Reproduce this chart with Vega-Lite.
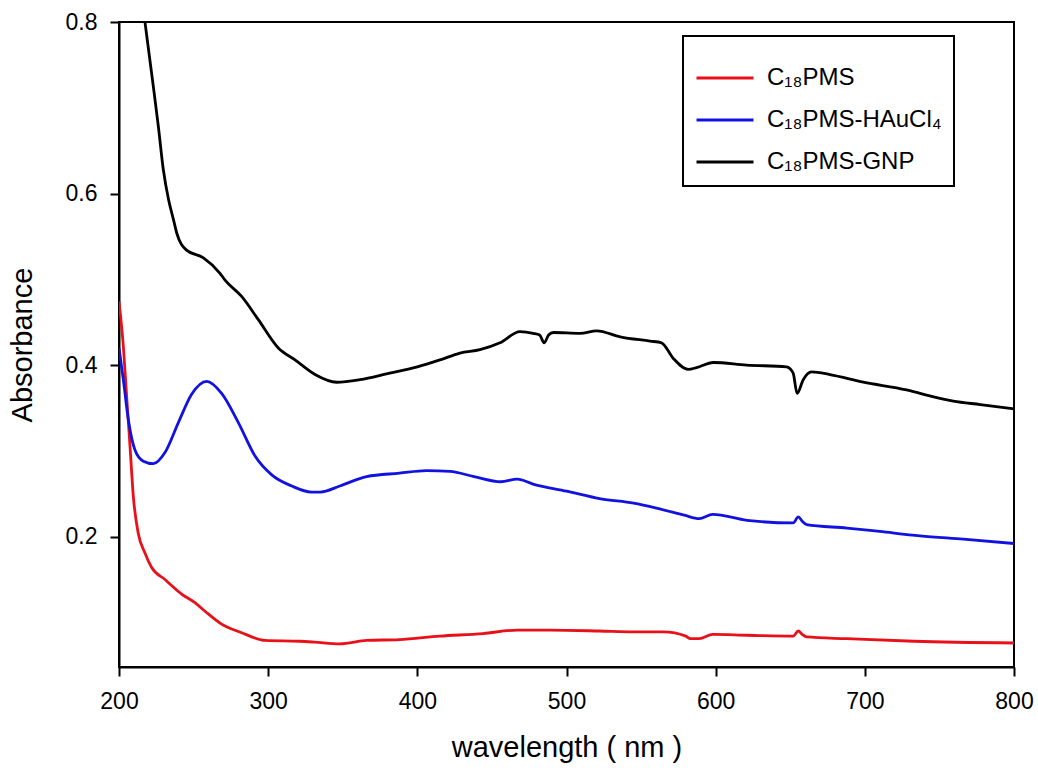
{
  "$schema": "https://vega.github.io/schema/vega-lite/v6.json",
  "width": 895,
  "height": 645,
  "autosize": {"type": "none"},
  "padding": {"left": 119, "top": 22, "right": 24, "bottom": 107},
  "data": {
    "values": [
      {"wavelength":200,"absorbance":0.474,"sample":"C₁₈PMS"},
      {"wavelength":202.9,"absorbance":0.422,"sample":"C₁₈PMS"},
      {"wavelength":205.1,"absorbance":0.364,"sample":"C₁₈PMS"},
      {"wavelength":207.4,"absorbance":0.305,"sample":"C₁₈PMS"},
      {"wavelength":209.6,"absorbance":0.247,"sample":"C₁₈PMS"},
      {"wavelength":212.9,"absorbance":0.204,"sample":"C₁₈PMS"},
      {"wavelength":217.4,"absorbance":0.181,"sample":"C₁₈PMS"},
      {"wavelength":221.9,"absorbance":0.164,"sample":"C₁₈PMS"},
      {"wavelength":230.8,"absorbance":0.150,"sample":"C₁₈PMS"},
      {"wavelength":242,"absorbance":0.133,"sample":"C₁₈PMS"},
      {"wavelength":250.9,"absorbance":0.123,"sample":"C₁₈PMS"},
      {"wavelength":257.7,"absorbance":0.113,"sample":"C₁₈PMS"},
      {"wavelength":268.8,"absorbance":0.098,"sample":"C₁₈PMS"},
      {"wavelength":282.2,"absorbance":0.088,"sample":"C₁₈PMS"},
      {"wavelength":297.9,"absorbance":0.079,"sample":"C₁₈PMS"},
      {"wavelength":321,"absorbance":0.078,"sample":"C₁₈PMS"},
      {"wavelength":331,"absorbance":0.077,"sample":"C₁₈PMS"},
      {"wavelength":348,"absorbance":0.075,"sample":"C₁₈PMS"},
      {"wavelength":366,"absorbance":0.079,"sample":"C₁₈PMS"},
      {"wavelength":388,"absorbance":0.080,"sample":"C₁₈PMS"},
      {"wavelength":415,"absorbance":0.084,"sample":"C₁₈PMS"},
      {"wavelength":444,"absorbance":0.087,"sample":"C₁₈PMS"},
      {"wavelength":467,"absorbance":0.091,"sample":"C₁₈PMS"},
      {"wavelength":489,"absorbance":0.091,"sample":"C₁₈PMS"},
      {"wavelength":522,"absorbance":0.090,"sample":"C₁₈PMS"},
      {"wavelength":545,"absorbance":0.089,"sample":"C₁₈PMS"},
      {"wavelength":565,"absorbance":0.089,"sample":"C₁₈PMS"},
      {"wavelength":580,"absorbance":0.084,"sample":"C₁₈PMS"},
      {"wavelength":583,"absorbance":0.081,"sample":"C₁₈PMS"},
      {"wavelength":589,"absorbance":0.081,"sample":"C₁₈PMS"},
      {"wavelength":598,"absorbance":0.086,"sample":"C₁₈PMS"},
      {"wavelength":621,"absorbance":0.085,"sample":"C₁₈PMS"},
      {"wavelength":652,"absorbance":0.084,"sample":"C₁₈PMS"},
      {"wavelength":655.4,"absorbance":0.090,"sample":"C₁₈PMS"},
      {"wavelength":658,"absorbance":0.086,"sample":"C₁₈PMS"},
      {"wavelength":661,"absorbance":0.083,"sample":"C₁₈PMS"},
      {"wavelength":688,"absorbance":0.081,"sample":"C₁₈PMS"},
      {"wavelength":733,"absorbance":0.078,"sample":"C₁₈PMS"},
      {"wavelength":800,"absorbance":0.076,"sample":"C₁₈PMS"},

      {"wavelength":200,"absorbance":0.420,"sample":"C₁₈PMS-HAuCl₄"},
      {"wavelength":202.9,"absorbance":0.383,"sample":"C₁₈PMS-HAuCl₄"},
      {"wavelength":206.3,"absorbance":0.336,"sample":"C₁₈PMS-HAuCl₄"},
      {"wavelength":210.7,"absorbance":0.301,"sample":"C₁₈PMS-HAuCl₄"},
      {"wavelength":216.3,"absorbance":0.288,"sample":"C₁₈PMS-HAuCl₄"},
      {"wavelength":223,"absorbance":0.285,"sample":"C₁₈PMS-HAuCl₄"},
      {"wavelength":230.8,"absorbance":0.298,"sample":"C₁₈PMS-HAuCl₄"},
      {"wavelength":239.8,"absorbance":0.333,"sample":"C₁₈PMS-HAuCl₄"},
      {"wavelength":248.7,"absorbance":0.366,"sample":"C₁₈PMS-HAuCl₄"},
      {"wavelength":258.8,"absorbance":0.381,"sample":"C₁₈PMS-HAuCl₄"},
      {"wavelength":268.8,"absorbance":0.367,"sample":"C₁₈PMS-HAuCl₄"},
      {"wavelength":280,"absorbance":0.333,"sample":"C₁₈PMS-HAuCl₄"},
      {"wavelength":291.2,"absorbance":0.294,"sample":"C₁₈PMS-HAuCl₄"},
      {"wavelength":302.4,"absorbance":0.272,"sample":"C₁₈PMS-HAuCl₄"},
      {"wavelength":315.8,"absorbance":0.259,"sample":"C₁₈PMS-HAuCl₄"},
      {"wavelength":329,"absorbance":0.252,"sample":"C₁₈PMS-HAuCl₄"},
      {"wavelength":335,"absorbance":0.252,"sample":"C₁₈PMS-HAuCl₄"},
      {"wavelength":348,"absorbance":0.259,"sample":"C₁₈PMS-HAuCl₄"},
      {"wavelength":366,"absorbance":0.270,"sample":"C₁₈PMS-HAuCl₄"},
      {"wavelength":388,"absorbance":0.274,"sample":"C₁₈PMS-HAuCl₄"},
      {"wavelength":406,"absorbance":0.277,"sample":"C₁₈PMS-HAuCl₄"},
      {"wavelength":422,"absorbance":0.276,"sample":"C₁₈PMS-HAuCl₄"},
      {"wavelength":438,"absorbance":0.270,"sample":"C₁₈PMS-HAuCl₄"},
      {"wavelength":456,"absorbance":0.264,"sample":"C₁₈PMS-HAuCl₄"},
      {"wavelength":467,"absorbance":0.267,"sample":"C₁₈PMS-HAuCl₄"},
      {"wavelength":478,"absorbance":0.261,"sample":"C₁₈PMS-HAuCl₄"},
      {"wavelength":500,"absorbance":0.253,"sample":"C₁₈PMS-HAuCl₄"},
      {"wavelength":523,"absorbance":0.244,"sample":"C₁₈PMS-HAuCl₄"},
      {"wavelength":545,"absorbance":0.239,"sample":"C₁₈PMS-HAuCl₄"},
      {"wavelength":563,"absorbance":0.232,"sample":"C₁₈PMS-HAuCl₄"},
      {"wavelength":579,"absorbance":0.225,"sample":"C₁₈PMS-HAuCl₄"},
      {"wavelength":589,"absorbance":0.221,"sample":"C₁₈PMS-HAuCl₄"},
      {"wavelength":598,"absorbance":0.226,"sample":"C₁₈PMS-HAuCl₄"},
      {"wavelength":621,"absorbance":0.219,"sample":"C₁₈PMS-HAuCl₄"},
      {"wavelength":652,"absorbance":0.216,"sample":"C₁₈PMS-HAuCl₄"},
      {"wavelength":655.4,"absorbance":0.223,"sample":"C₁₈PMS-HAuCl₄"},
      {"wavelength":658,"absorbance":0.218,"sample":"C₁₈PMS-HAuCl₄"},
      {"wavelength":661,"absorbance":0.214,"sample":"C₁₈PMS-HAuCl₄"},
      {"wavelength":688,"absorbance":0.210,"sample":"C₁₈PMS-HAuCl₄"},
      {"wavelength":710,"absorbance":0.206,"sample":"C₁₈PMS-HAuCl₄"},
      {"wavelength":737,"absorbance":0.201,"sample":"C₁₈PMS-HAuCl₄"},
      {"wavelength":766,"absorbance":0.197,"sample":"C₁₈PMS-HAuCl₄"},
      {"wavelength":800,"absorbance":0.192,"sample":"C₁₈PMS-HAuCl₄"},

      {"wavelength":208,"absorbance":0.95,"sample":"C₁₈PMS-GNP"},
      {"wavelength":212,"absorbance":0.87,"sample":"C₁₈PMS-GNP"},
      {"wavelength":217.4,"absorbance":0.800,"sample":"C₁₈PMS-GNP"},
      {"wavelength":223,"absorbance":0.725,"sample":"C₁₈PMS-GNP"},
      {"wavelength":226.4,"absorbance":0.678,"sample":"C₁₈PMS-GNP"},
      {"wavelength":229.7,"absorbance":0.628,"sample":"C₁₈PMS-GNP"},
      {"wavelength":233.2,"absorbance":0.593,"sample":"C₁₈PMS-GNP"},
      {"wavelength":236.6,"absorbance":0.569,"sample":"C₁₈PMS-GNP"},
      {"wavelength":238.7,"absorbance":0.554,"sample":"C₁₈PMS-GNP"},
      {"wavelength":245.3,"absorbance":0.534,"sample":"C₁₈PMS-GNP"},
      {"wavelength":256.6,"absorbance":0.525,"sample":"C₁₈PMS-GNP"},
      {"wavelength":267.7,"absorbance":0.507,"sample":"C₁₈PMS-GNP"},
      {"wavelength":271.1,"absorbance":0.499,"sample":"C₁₈PMS-GNP"},
      {"wavelength":282.2,"absorbance":0.480,"sample":"C₁₈PMS-GNP"},
      {"wavelength":293.4,"absorbance":0.453,"sample":"C₁₈PMS-GNP"},
      {"wavelength":306.8,"absorbance":0.420,"sample":"C₁₈PMS-GNP"},
      {"wavelength":318,"absorbance":0.406,"sample":"C₁₈PMS-GNP"},
      {"wavelength":331.4,"absorbance":0.389,"sample":"C₁₈PMS-GNP"},
      {"wavelength":345.9,"absorbance":0.380,"sample":"C₁₈PMS-GNP"},
      {"wavelength":361.6,"absorbance":0.383,"sample":"C₁₈PMS-GNP"},
      {"wavelength":380,"absorbance":0.390,"sample":"C₁₈PMS-GNP"},
      {"wavelength":400,"absorbance":0.398,"sample":"C₁₈PMS-GNP"},
      {"wavelength":415.2,"absorbance":0.406,"sample":"C₁₈PMS-GNP"},
      {"wavelength":428.6,"absorbance":0.414,"sample":"C₁₈PMS-GNP"},
      {"wavelength":442,"absorbance":0.418,"sample":"C₁₈PMS-GNP"},
      {"wavelength":455.4,"absorbance":0.426,"sample":"C₁₈PMS-GNP"},
      {"wavelength":468.8,"absorbance":0.439,"sample":"C₁₈PMS-GNP"},
      {"wavelength":477.7,"absorbance":0.437,"sample":"C₁₈PMS-GNP"},
      {"wavelength":482,"absorbance":0.435,"sample":"C₁₈PMS-GNP"},
      {"wavelength":485,"absorbance":0.426,"sample":"C₁₈PMS-GNP"},
      {"wavelength":488,"absorbance":0.435,"sample":"C₁₈PMS-GNP"},
      {"wavelength":491.2,"absorbance":0.438,"sample":"C₁₈PMS-GNP"},
      {"wavelength":509.1,"absorbance":0.437,"sample":"C₁₈PMS-GNP"},
      {"wavelength":520.3,"absorbance":0.440,"sample":"C₁₈PMS-GNP"},
      {"wavelength":536,"absorbance":0.433,"sample":"C₁₈PMS-GNP"},
      {"wavelength":556,"absorbance":0.428,"sample":"C₁₈PMS-GNP"},
      {"wavelength":563.7,"absorbance":0.426,"sample":"C₁₈PMS-GNP"},
      {"wavelength":571.5,"absorbance":0.408,"sample":"C₁₈PMS-GNP"},
      {"wavelength":581.6,"absorbance":0.395,"sample":"C₁₈PMS-GNP"},
      {"wavelength":587.2,"absorbance":0.397,"sample":"C₁₈PMS-GNP"},
      {"wavelength":598.4,"absorbance":0.403,"sample":"C₁₈PMS-GNP"},
      {"wavelength":620.7,"absorbance":0.400,"sample":"C₁₈PMS-GNP"},
      {"wavelength":647.5,"absorbance":0.398,"sample":"C₁₈PMS-GNP"},
      {"wavelength":651.9,"absorbance":0.391,"sample":"C₁₈PMS-GNP"},
      {"wavelength":654.6,"absorbance":0.367,"sample":"C₁₈PMS-GNP"},
      {"wavelength":658.7,"absorbance":0.383,"sample":"C₁₈PMS-GNP"},
      {"wavelength":664.3,"absorbance":0.392,"sample":"C₁₈PMS-GNP"},
      {"wavelength":676.6,"absorbance":0.389,"sample":"C₁₈PMS-GNP"},
      {"wavelength":699,"absorbance":0.380,"sample":"C₁₈PMS-GNP"},
      {"wavelength":728,"absorbance":0.371,"sample":"C₁₈PMS-GNP"},
      {"wavelength":737,"absorbance":0.367,"sample":"C₁₈PMS-GNP"},
      {"wavelength":759.3,"absorbance":0.358,"sample":"C₁₈PMS-GNP"},
      {"wavelength":777.4,"absorbance":0.354,"sample":"C₁₈PMS-GNP"},
      {"wavelength":800,"absorbance":0.349,"sample":"C₁₈PMS-GNP"}
    ]
  },
  "mark": {"type": "line", "strokeWidth": 2.8, "clip": true, "interpolate": "monotone"},
  "encoding": {
    "x": {
      "field": "wavelength",
      "type": "quantitative",
      "scale": {"domain": [200, 800], "nice": false, "zero": false},
      "axis": {"title": "wavelength ( nm )", "values": [200, 300, 400, 500, 600, 700, 800], "format": "d", "labelPadding": 14, "titlePadding": 20, "labelFlush": false}
    },
    "y": {
      "field": "absorbance",
      "type": "quantitative",
      "scale": {"domain": [0.048, 0.8], "nice": false, "zero": false},
      "axis": {"title": "Absorbance", "values": [0.2, 0.4, 0.6, 0.8], "format": ".1f", "labelPadding": 13, "titlePadding": 28, "labelFlush": false}
    },
    "color": {
      "field": "sample",
      "type": "nominal",
      "scale": {"domain": ["C₁₈PMS", "C₁₈PMS-HAuCl₄", "C₁₈PMS-GNP"], "range": ["#e8111a", "#1212e0", "#000000"]},
      "legend": {
        "title": null,
        "orient": "none",
        "legendX": 564,
        "legendY": 14,
        "symbolType": "stroke",
        "symbolSize": 3249,
        "symbolStrokeWidth": 2.8,
        "labelFontSize": 24,
        "labelOffset": 12,
        "labelLimit": 400,
        "rowPadding": -5,
        "padding": 12,
        "strokeColor": "black",
        "fillColor": "white",
        "labelColor": "black"
      }
    }
  },
  "config": {
    "font": "Liberation Sans",
    "view": {"stroke": "black", "strokeWidth": 2},
    "legend": {"strokeWidth": 2},
    "axis": {
      "grid": false,
      "domainColor": "black",
      "domainWidth": 2,
      "tickColor": "black",
      "tickWidth": 2,
      "tickSize": 9,
      "labelFontSize": 23,
      "labelColor": "black",
      "titleFontSize": 29,
      "titleFontWeight": "normal",
      "titleColor": "black",
      "labelFont": "Liberation Sans",
      "titleFont": "Liberation Sans"
    }
  }
}
